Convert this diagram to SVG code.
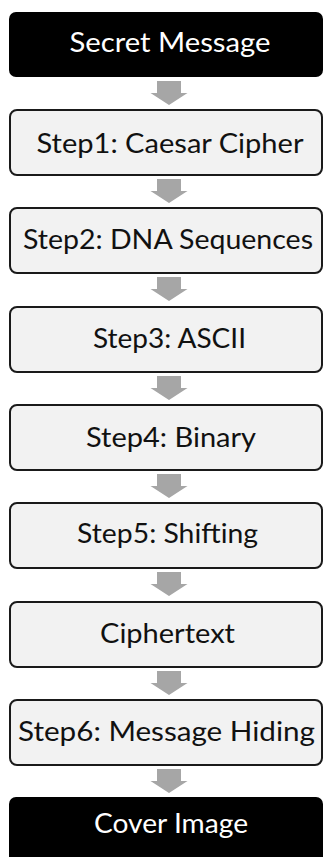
<svg xmlns="http://www.w3.org/2000/svg" width="323" height="857" viewBox="0 0 323 857">
<style>
.bg{fill:#ffffff}
.dark rect{fill:#000000}
.dark text{fill:#ffffff}
.step rect{fill:#f2f2f2;stroke:#1a1a1a;stroke-width:2}
text{font-family:Lato,"Open Sans","Noto Sans",sans-serif;font-size:26px;text-anchor:middle;fill:#111111}
.arrow{fill:#a6a6a6}
</style>
<defs>
<path id="arr" d="M-12,0 H12 V12 H18.5 L0,24 L-18.5,12 H-12 Z"/>
</defs>
<rect class="bg" x="0" y="0" width="323" height="857"/>
<g id="connectors">
<use href="#arr" class="arrow" x="169" y="81"/>
<use href="#arr" class="arrow" x="169" y="179"/>
<use href="#arr" class="arrow" x="169" y="277"/>
<use href="#arr" class="arrow" x="169" y="376"/>
<use href="#arr" class="arrow" x="169" y="474"/>
<use href="#arr" class="arrow" x="169" y="572"/>
<use href="#arr" class="arrow" x="169" y="671"/>
<use href="#arr" class="arrow" x="169" y="769"/>
</g>
<g id="secret-message" class="dark">
<rect x="9" y="12" width="314" height="65" rx="7"/>
<text x="170" y="52" textLength="201" lengthAdjust="spacingAndGlyphs">Secret Message</text>
</g>
<g id="step1" class="step">
<rect x="10" y="110" width="312" height="65" rx="7"/>
<text x="170" y="153" textLength="267" lengthAdjust="spacingAndGlyphs">Step1: Caesar Cipher</text>
</g>
<g id="step2" class="step">
<rect x="10" y="208" width="312" height="65" rx="7"/>
<text x="168" y="249" textLength="290" lengthAdjust="spacingAndGlyphs">Step2: DNA Sequences</text>
</g>
<g id="step3" class="step">
<rect x="10" y="307" width="312" height="65" rx="7"/>
<text x="169.5" y="348" textLength="153" lengthAdjust="spacingAndGlyphs">Step3: ASCII</text>
</g>
<g id="step4" class="step">
<rect x="10" y="405" width="312" height="65" rx="7"/>
<text x="171" y="447" textLength="170" lengthAdjust="spacingAndGlyphs">Step4: Binary</text>
</g>
<g id="step5" class="step">
<rect x="10" y="503" width="312" height="65" rx="7"/>
<text x="167.5" y="543" textLength="181" lengthAdjust="spacingAndGlyphs">Step5: Shifting</text>
</g>
<g id="ciphertext" class="step">
<rect x="10" y="602" width="312" height="65" rx="7"/>
<text x="167.5" y="643" textLength="135" lengthAdjust="spacingAndGlyphs">Ciphertext</text>
</g>
<g id="step6" class="step">
<rect x="10" y="700" width="312" height="65" rx="7"/>
<text x="166.5" y="741" textLength="297" lengthAdjust="spacingAndGlyphs">Step6: Message Hiding</text>
</g>
<g id="cover-image" class="dark">
<rect x="9" y="797" width="314" height="70" rx="7"/>
<text x="171" y="833" textLength="154" lengthAdjust="spacingAndGlyphs">Cover Image</text>
</g>
</svg>
